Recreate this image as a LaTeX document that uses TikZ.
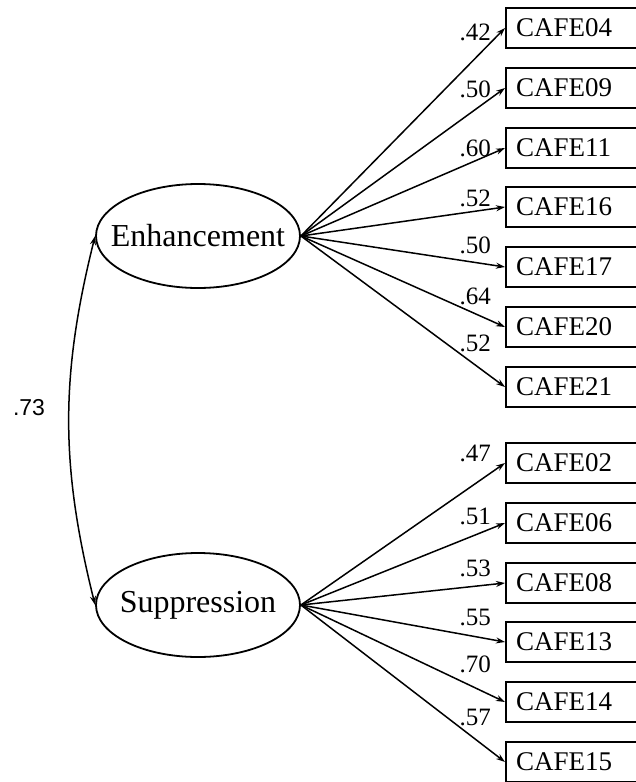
\documentclass[tikz,border=0pt]{standalone}
\usepackage{fontspec}
\setmainfont{Liberation Serif}
\newfontfamily\labsans{Liberation Sans}
\usetikzlibrary{shapes, positioning, arrows.meta}
\tikzstyle{latent}=[ellipse, draw=black, line width=1.8pt, minimum width=204pt,
  minimum height=104pt, inner xsep=-40pt, font=\fontsize{32}{36}\selectfont]
\tikzstyle{item}=[rectangle, draw=black, line width=2pt, anchor=west,
  minimum height=40pt, text width=120pt, inner xsep=10pt, align=left,
  font=\fontsize{27}{30}\selectfont]
\tikzstyle{arrow}=[-{Stealth[length=9pt,width=6pt]}, line width=1.5pt, draw=black]
\tikzstyle{covar}=[{Stealth[length=9pt,width=6pt]}-{Stealth[length=9pt,width=6pt]},
  line width=1.5pt, draw=black]
\tikzstyle{coef}=[anchor=east, inner sep=0pt, font=\fontsize{25}{28}\selectfont]

\begin{document}
\begin{tikzpicture}[x=1pt, y=-1pt]
  \useasboundingbox (0,0) rectangle (636,782);
  \clip (0,0) rectangle (636,782);

  \node[latent] (enh) at (198,236) {Enhancement};
  \node[latent] (sup) at (198,605) {Suppression};

  % loadings
  \foreach \id/\yy/\coefval/\ly in {04/28/.42/32, 09/88/.50/89, 11/148/.60/148,
    16/207/.52/198, 17/267/.50/245, 20/327/.64/296, 21/387/.52/343}
  {
    \node[item] (c\id) at (505,\yy) {CAFE\id};
    \draw[arrow] (enh.east) -- (c\id.west);
    \node[coef] (k\id) at (491,\ly) {\coefval};
  }
  \foreach \id/\yy/\coefval/\ly in {02/463/.47/453, 06/523/.51/516, 08/583/.53/568,
    13/642/.55/617, 14/702/.70/664, 15/762/.57/717}
  {
    \node[item] (c\id) at (505,\yy) {CAFE\id};
    \draw[arrow] (sup.east) -- (c\id.west);
    \node[coef] (k\id) at (491,\ly) {\coefval};
  }

  % correlation
  \draw[covar] (enh.west) to[bend right=14] (sup.west);
  \node[inner sep=0pt, font=\labsans\fontsize{23}{26}\selectfont] (r) at (29,408) {.73};
\end{tikzpicture}
\end{document}
